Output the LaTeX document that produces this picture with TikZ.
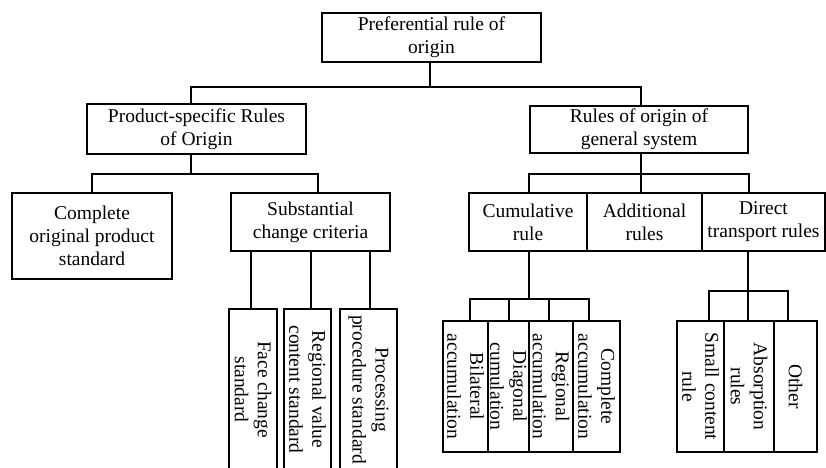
\documentclass[tikz,border=0pt]{standalone}
\usepackage{fontspec}
\setmainfont{Liberation Serif}
\begin{document}
\begin{tikzpicture}[x=1pt,y=-1pt,
  box/.style={draw,line width=1.7pt,inner sep=0pt,align=center,font=\fontsize{19.5}{23}\selectfont},
  vbox/.style={box,rotate=-90},
  conn/.style={line width=1.7pt}]
\useasboundingbox (0,0) rectangle (826,467);
% level 0
\node[box,minimum width=219,minimum height=49] (top) at (431.5,37.5) {Preferential rule of\\origin};
% level 1
\node[box,minimum width=219,minimum height=50] (prod) at (196.5,129) {Product-specific Rules\\of Origin};
\node[box,minimum width=218,minimum height=47] (rules) at (639,129.5) {Rules of origin of\\general system};
% level 2
\node[box,minimum width=160,minimum height=86] (comp) at (92,236) {Complete\\original product\\standard};
\node[box,minimum width=159,minimum height=58] (sub) at (310.5,222) {Substantial\\change criteria};
\node[box,minimum width=118,minimum height=58] (cum) at (528,222) {Cumulative\\rule};
\node[box,minimum width=115,minimum height=58] (add) at (644.5,222) {Additional\\rules};
\node[box,minimum width=123,minimum height=58] (dir) at (763.5,222) {Direct\\transport rules};
% level 3 (vertical)
\node[vbox,minimum width=161,minimum height=48] (face) at (253,389.5) {Face change\\standard};
\node[vbox,minimum width=161,minimum height=47] (regv) at (307.5,389.5) {Regional value\\content standard};
\node[vbox,minimum width=161,minimum height=57] (proc) at (368.5,389.5) {Processing\\procedure standard};
\node[vbox,minimum width=131,minimum height=45] (bil) at (465.5,386.5) {Bilateral\\accumulation};
\node[vbox,minimum width=131,minimum height=41] (diag) at (508.5,386.5) {Diagonal\\cumulation};
\node[vbox,minimum width=131,minimum height=44] (reg) at (551,386.5) {Regional\\accumulation};
\node[vbox,minimum width=131,minimum height=47] (compl) at (596.5,386.5) {Complete\\accumulation};
\node[vbox,minimum width=131,minimum height=47] (small) at (700.5,386.5) {Small content\\rule};
\node[vbox,minimum width=131,minimum height=50] (abs) at (749,386.5) {Absorption\\rules};
\node[vbox,minimum width=131,minimum height=43] (oth) at (795.5,386.5) {Other};
% connectors level 0 -> 1
\draw[conn] ([xshift=-1.5]top.south) -- ++(0,24) coordinate (j0);
\draw[conn] ([xshift=-5.5]prod.north) |- ([xshift=2]rules.north |- j0) -- ([xshift=2]rules.north);
% prod -> level 2
\draw[conn] ([xshift=-5.5]prod.south) -- ++(0,19) coordinate (j1);
\draw[conn] (comp.north) |- ([xshift=7.5]sub.north |- j1) -- ([xshift=7.5]sub.north);
% rules -> level 2
\draw[conn] ([xshift=2]rules.south) -- ++(0,20) coordinate (j2);
\draw[conn] (cum.north -| rules.west) |- (rules.east |- j2) -- (dir.north -| rules.east);
\draw[conn] (j2) -- (j2 |- add.north);
% sub -> level 3
\draw[conn] ([xshift=-2]face.west) -- ([xshift=-2]face.west |- sub.south);
\draw[conn] ([xshift=3.5]regv.west) -- ([xshift=3.5]regv.west |- sub.south);
\draw[conn] ([xshift=1.5]proc.west) -- ([xshift=1.5]proc.west |- sub.south);
% cum -> level 3
\draw[conn] ([xshift=1]cum.south) -- ++(0,47) coordinate (j3);
\draw[conn] ([xshift=4.5]bil.west) |- ([xshift=-7.5]compl.west |- j3) -- ([xshift=-7.5]compl.west);
\draw[conn] ([xshift=0.5]diag.west) -- ([xshift=0.5]diag.west |- j3);
\draw[conn] ([xshift=-2]reg.west) -- ([xshift=-2]reg.west |- j3);
% dir -> level 3
\draw[conn] ([xshift=-1]abs.west |- dir.south) -- ++(0,39) coordinate (j4);
\draw[conn] (j4) -- ([xshift=-1]abs.west);
\draw[conn] ([xshift=8.5]small.west) |- ([xshift=-7.5]oth.west |- j4) -- ([xshift=-7.5]oth.west);
\end{tikzpicture}
\end{document}
